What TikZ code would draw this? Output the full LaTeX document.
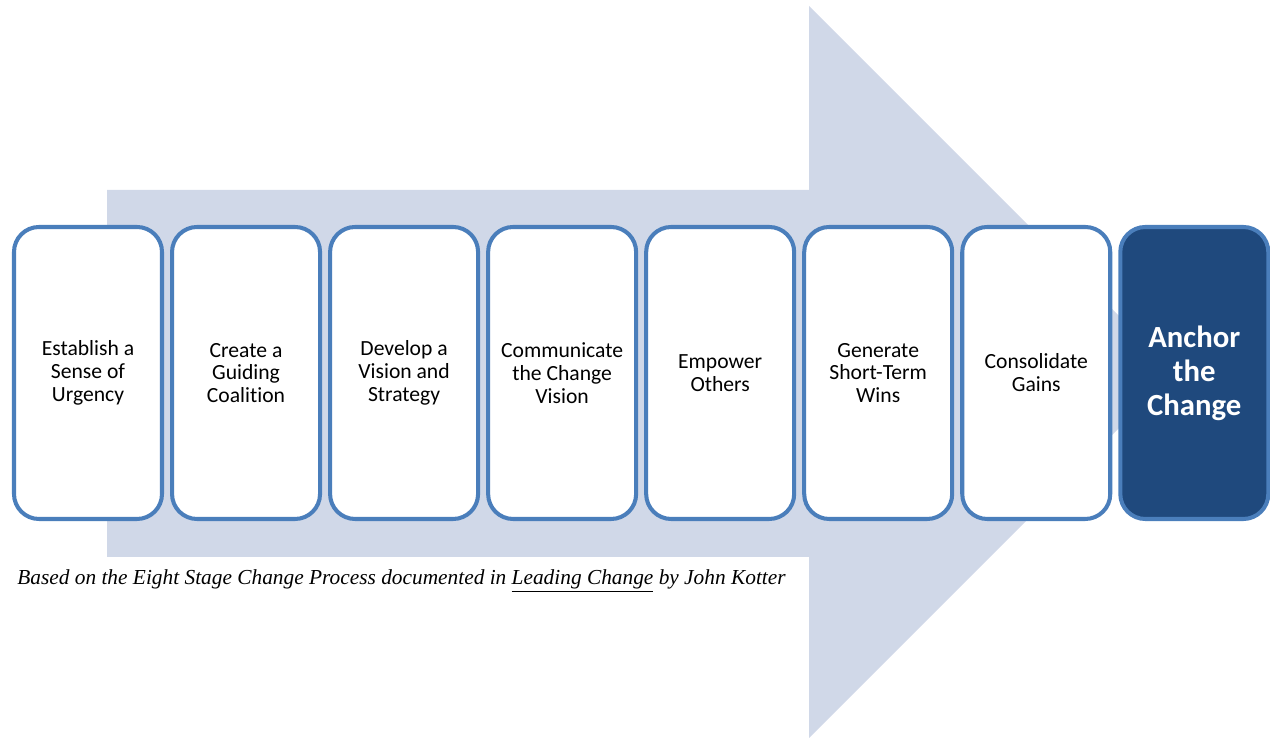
\documentclass[tikz,border=0pt]{standalone}
\usepackage{fontspec}
\setmainfont{Carlito}[Ligatures=NoCommon]
\newfontfamily\kotterfont{Liberation Serif}
\usepackage{tikz}
\usetikzlibrary{positioning}
\definecolor{stageblue}{RGB}{74,126,187}
\definecolor{arrowgray}{RGB}{208,216,232}
\definecolor{anchorblue}{RGB}{31,73,125}

\begin{document}
\begin{tikzpicture}[
    stagebox/.style={draw=stageblue, line width=2.3pt, fill=white, rounded corners=0.5cm,
        minimum width=2.96cm, minimum height=5.84cm, inner sep=0pt, align=center,
        font=\fontsize{12.3}{13}\selectfont},
    lastbox/.style={stagebox, fill=anchorblue, text=white,
        font=\fontsize{17.5}{19.3}\selectfont\bfseries}
]
                \useasboundingbox (0,0) rectangle (25.4,14.76);

                % Big Arrow
                \fill[arrowgray] (2.14,10.96) -- (16.18,10.96) -- (16.18,14.64) -- (23.5,7.32)
                    -- (16.18,0) -- (16.18,3.62) -- (2.14,3.62) -- cycle;

                % Stages
                \node[stagebox] (s1) at (1.76,7.3) {Establish a\\Sense of\\Urgency};
                \node[stagebox, right=0.12cm of s1] (s2) {Create a\\Guiding\\Coalition};
                \node[stagebox, right=0.12cm of s2] (s3) {Develop a\\Vision and\\Strategy};
                \node[stagebox, right=0.12cm of s3] (s4) {Communicate\\the Change\\Vision};
                \node[stagebox, right=0.12cm of s4] (s5) {Empower\\Others};
                \node[stagebox, right=0.12cm of s5] (s6) {Generate\\Short-Term\\Wins};
                \node[stagebox, right=0.12cm of s6] (s7) {Consolidate\\Gains};
                \node[lastbox, right=0.12cm of s7] (s8) {Anchor\\the\\Change};

                % Source note
                \node[anchor=west, inner sep=0pt, font=\kotterfont\itshape\fontsize{12.15}{14}\selectfont] (note) at (0.34,3.14)
                    {Based on the Eight Stage Change Process documented in \underline{Leading Change} by John Kotter};
\end{tikzpicture}
\end{document}
